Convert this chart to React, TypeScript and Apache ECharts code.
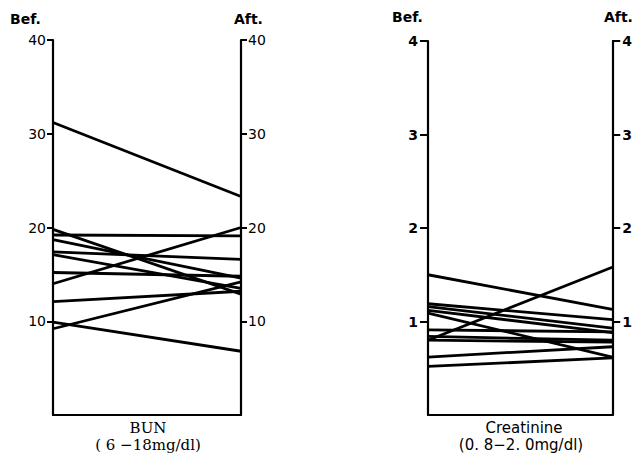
import React, { useEffect, useRef } from "react";
import * as echarts from "echarts";

const stages = ["Bef.", "Aft."];

const bunBefore = [31.2, 19.8, 19.2, 18.7, 17.4, 17.1, 15.2, 14.0, 12.1, 9.9, 9.2];
const bunAfter = [23.3, 12.9, 19.1, 14.6, 16.6, 13.5, 14.8, 20.0, 13.2, 6.8, 14.2];
const bunTicks = [10, 20, 30, 40];

const creBefore = [1.5, 0.8, 0.52, 0.62, 0.91, 0.84, 1.19, 1.16, 1.12, 1.09, 0.8];
const creAfter = [1.13, 1.58, 0.61, 0.73, 0.89, 0.8, 1.02, 0.93, 0.88, 0.62, 0.78];
const creTicks = [1, 2, 3, 4];

const panelTitles = ["BUN", "Creatinine"];
const panelRanges = ["( 6 \u221218mg/dl)", "(0. 8\u22122. 0mg/dl)"];

export default function App() {
  const ref = useRef<HTMLDivElement>(null);
  useEffect(() => {
    if (!ref.current) return;
    const chart = echarts.init(ref.current, null, { renderer: "svg" });
    const axisLine = { show: true, lineStyle: { color: "#000", width: 2.2 } };
    const mkY = (grid: number, pos: "left" | "right", max: number, interval: number, ticks: number[], font: any, tickLen: number, margin: number) => ({
      type: "value",
      gridIndex: grid,
      position: pos,
      min: 0,
      max,
      interval,
      splitLine: { show: false },
      axisLine,
      axisTick: { show: true, length: tickLen, customValues: ticks, lineStyle: { color: "#000", width: 2 } },
      axisLabel: { show: true, customValues: ticks, margin, color: "#000", ...font },
    });
    const mkX = (grid: number) => ({
      type: "category",
      gridIndex: grid,
      data: stages,
      boundaryGap: false,
      axisLine: { ...axisLine, onZero: false },
      axisTick: { show: false },
      axisLabel: { show: false },
      splitLine: { show: false },
    });
    const lineSeries = (bef: number[], aft: number[], xi: number, yi: number) =>
      bef.map((b, i) => ({
        type: "line",
        xAxisIndex: xi,
        yAxisIndex: yi,
        data: [b, aft[i]],
        symbol: "none",
        silent: true,
        lineStyle: { color: "#000", width: 2.8 },
      }));
    const leftFont = { fontFamily: "DejaVu Sans", fontSize: 14 };
    const rightFont = { fontFamily: "DejaVu Sans", fontSize: 14, fontWeight: "bold" };
    const headFont = { fontFamily: "DejaVu Sans", fontSize: 14, fontWeight: "bold", fill: "#000" };
    chart.setOption({
      animation: false,
      grid: [
        { left: 53, top: 40, width: 188, height: 375 },
        { left: 428, top: 41, width: 186, height: 374 },
      ],
      xAxis: [mkX(0), mkX(1)],
      yAxis: [
        mkY(0, "left", 40, 10, bunTicks, leftFont, 6, 7),
        mkY(0, "right", 40, 10, bunTicks, leftFont, 6, 7),
        mkY(1, "left", 4, 1, creTicks, rightFont, 8, 10),
        mkY(1, "right", 4, 1, creTicks, rightFont, 8, 10),
      ],
      series: [
        ...lineSeries(bunBefore, bunAfter, 0, 0),
        ...lineSeries(creBefore, creAfter, 1, 2),
      ],
      graphic: [
        { type: "text", left: 10, top: 12, style: { text: stages[0], ...headFont } },
        { type: "text", left: 234, top: 12, style: { text: stages[1], ...headFont } },
        { type: "text", left: 392, top: 10, style: { text: stages[0], ...headFont } },
        { type: "text", left: 604, top: 10, style: { text: stages[1], ...headFont } },
        { type: "text", x: 148, y: 428, style: { text: panelTitles[0], fontFamily: "DejaVu Serif", fontSize: 15, fill: "#000", align: "center", verticalAlign: "middle" } },
        { type: "text", x: 148, y: 445, style: { text: panelRanges[0], fontFamily: "DejaVu Serif", fontSize: 15, fill: "#000", align: "center", verticalAlign: "middle" } },
        { type: "text", x: 524, y: 428, style: { text: panelTitles[1], fontFamily: "DejaVu Sans", fontSize: 15, fill: "#000", align: "center", verticalAlign: "middle" } },
        { type: "text", x: 521, y: 445, style: { text: panelRanges[1], fontFamily: "DejaVu Sans", fontSize: 15, fill: "#000", align: "center", verticalAlign: "middle" } },
      ],
    });
    return () => chart.dispose();
  }, []);
  return <div ref={ref} style={{ width: 635, height: 461, position: "absolute", left: 0, top: 0, background: "#fff" }} />;
}
